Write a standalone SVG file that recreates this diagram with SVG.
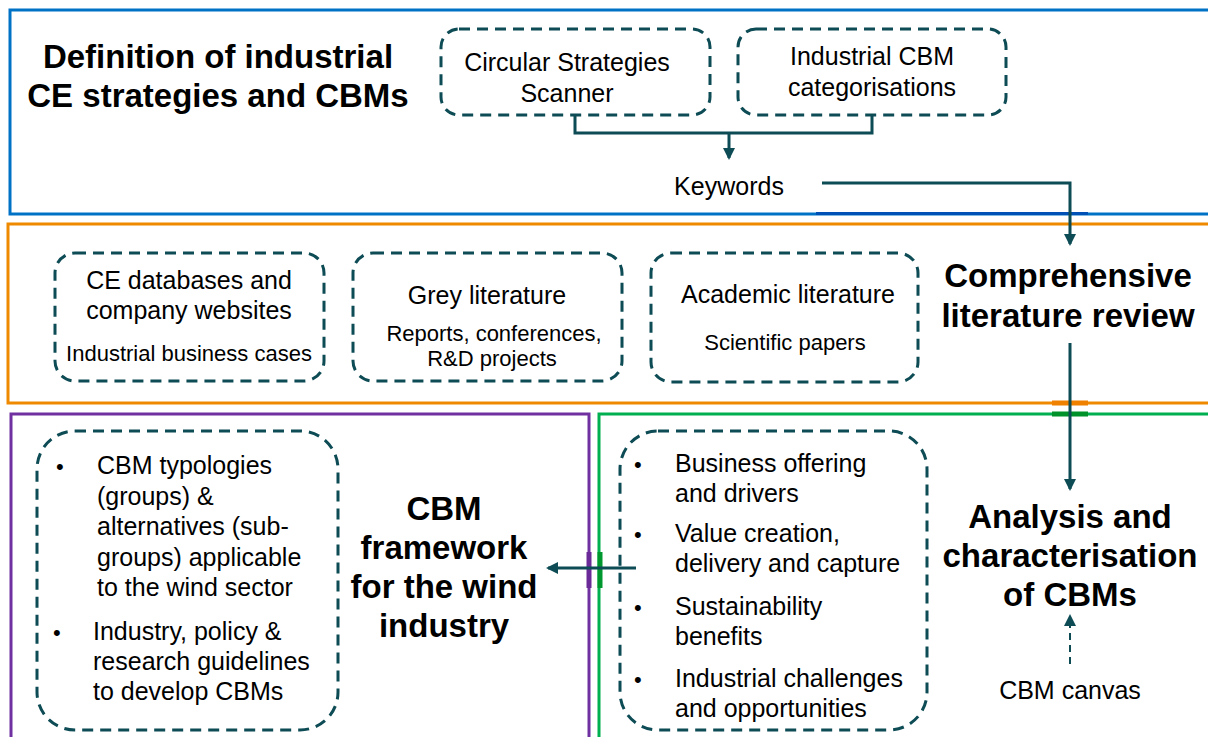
<svg xmlns="http://www.w3.org/2000/svg" width="1208" height="737" viewBox="0 0 1208 737">
<defs>
<style>
text{font-family:"Liberation Sans",Arial,sans-serif;fill:#000}
.t{font-size:25px}
.s{font-size:22px}
.h{font-size:33px;font-weight:bold}
.m{text-anchor:middle}
.box{fill:none;stroke:#0d4b55;stroke-width:3;stroke-dasharray:11 7}
.con{fill:none;stroke:#0d4b55;stroke-width:3}
.frame{fill:none;stroke-width:3}
</style>
<marker id="ah2" markerWidth="12" markerHeight="12" refX="10" refY="6" orient="auto" markerUnits="userSpaceOnUse" viewBox="0 0 12 12">
<path d="M0,0 L12,6 L0,12 z" fill="#0d4b55"/>
</marker>
</defs>
<rect width="1208" height="737" fill="#fff"/>

<g id="frames">
<rect class="frame" x="10" y="10" width="1210" height="204" stroke="#0072c6"/>
<line x1="816" y1="213.5" x2="1088" y2="213.5" stroke="#0050b5" stroke-width="3"/>
<rect class="frame" x="8" y="224" width="1212" height="179" stroke="#ef8a00"/>
<rect class="frame" x="11" y="414" width="578" height="340" stroke="#7030a0"/>
<rect class="frame" x="599" y="414" width="620" height="340" stroke="#00b050"/>
<line x1="1052" y1="403" x2="1088" y2="403" stroke="#f08000" stroke-width="5"/>
<line x1="1052" y1="414" x2="1088" y2="414" stroke="#00922a" stroke-width="5"/>
<line x1="589" y1="552" x2="589" y2="588" stroke="#6a2a98" stroke-width="5"/>
<line x1="600" y1="552" x2="600" y2="588" stroke="#00982e" stroke-width="5"/>
</g>

<g id="connectors">
<path class="con" d="M575,115 V133 H872 V115"/>
<path class="con" d="M729,133 V158" marker-end="url(#ah2)"/>
<path class="con" d="M822,183 H1070 V244" marker-end="url(#ah2)"/>
<path class="con" d="M1070,343 V489" marker-end="url(#ah2)"/>
<path class="con" d="M636,568 H548" marker-end="url(#ah2)"/>
<path d="M1070,664 V616" fill="none" stroke="#0d4b55" stroke-width="2" stroke-dasharray="7 5" marker-end="url(#ah2)"/>
</g>

<g id="title-definition">
<text class="h m" x="218" y="68">Definition of industrial</text>
<text class="h m" x="218" y="107">CE strategies and CBMs</text>
</g>

<g id="node-scanner">
<rect class="box" x="441" y="29" width="269" height="86" rx="18"/>
<text class="t m" x="567" y="71">Circular Strategies</text>
<text class="t m" x="567" y="102">Scanner</text>
</g>

<g id="node-categorisations">
<rect class="box" x="738" y="29" width="268" height="86" rx="18"/>
<text class="t m" x="872" y="65">Industrial CBM</text>
<text class="t m" x="872" y="96">categorisations</text>
</g>

<g id="node-keywords">
<text class="t m" x="729" y="195">Keywords</text>
</g>

<g id="node-ce-databases">
<rect class="box" x="55" y="253" width="269" height="128" rx="20"/>
<text class="t m" x="189" y="289">CE databases and</text>
<text class="t m" x="189" y="319">company websites</text>
<text class="s m" x="189" y="361">Industrial business cases</text>
</g>

<g id="node-grey">
<rect class="box" x="353" y="253" width="269" height="128" rx="20"/>
<text class="t m" x="487" y="304">Grey literature</text>
<text class="s m" x="494" y="341">Reports, conferences,</text>
<text class="s m" x="492" y="366">R&amp;D projects</text>
</g>

<g id="node-academic">
<rect class="box" x="651" y="253" width="267" height="129" rx="20"/>
<text class="t m" x="788" y="303">Academic literature</text>
<text class="s m" x="785" y="350">Scientific papers</text>
</g>

<g id="title-review">
<text class="h m" x="1068" y="287">Comprehensive</text>
<text class="h m" x="1068" y="327">literature review</text>
</g>

<g id="node-framework-list">
<rect class="box" x="37" y="431" width="301" height="299" rx="38"/>
<text class="s" x="56" y="474">•</text>
<text class="t" x="97" y="474">CBM typologies</text>
<text class="t" x="97" y="505">(groups) &amp;</text>
<text class="t" x="97" y="535">alternatives (sub-</text>
<text class="t" x="97" y="566">groups) applicable</text>
<text class="t" x="97" y="596">to the wind sector</text>
<text class="s" x="53" y="640">•</text>
<text class="t" x="93" y="640">Industry, policy &amp;</text>
<text class="t" x="93" y="670">research guidelines</text>
<text class="t" x="93" y="700">to develop CBMs</text>
</g>

<g id="title-framework">
<text class="h m" x="444" y="520">CBM</text>
<text class="h m" x="444" y="559">framework</text>
<text class="h m" x="444" y="598">for the wind</text>
<text class="h m" x="444" y="637">industry</text>
</g>

<g id="node-analysis-list">
<rect class="box" x="620" y="431" width="307" height="299" rx="38"/>
<text class="s" x="634" y="472">•</text>
<text class="t" x="675" y="472">Business offering</text>
<text class="t" x="675" y="502">and drivers</text>
<text class="s" x="634" y="542">•</text>
<text class="t" x="675" y="542">Value creation,</text>
<text class="t" x="675" y="572">delivery and capture</text>
<text class="s" x="634" y="615">•</text>
<text class="t" x="675" y="615">Sustainability</text>
<text class="t" x="675" y="645">benefits</text>
<text class="s" x="634" y="687">•</text>
<text class="t" x="675" y="687">Industrial challenges</text>
<text class="t" x="675" y="717">and opportunities</text>
</g>

<g id="title-analysis">
<text class="h m" x="1070" y="528">Analysis and</text>
<text class="h m" x="1070" y="567">characterisation</text>
<text class="h m" x="1070" y="606">of CBMs</text>
</g>

<g id="node-canvas">
<text class="t m" x="1070" y="699">CBM canvas</text>
</g>
</svg>
